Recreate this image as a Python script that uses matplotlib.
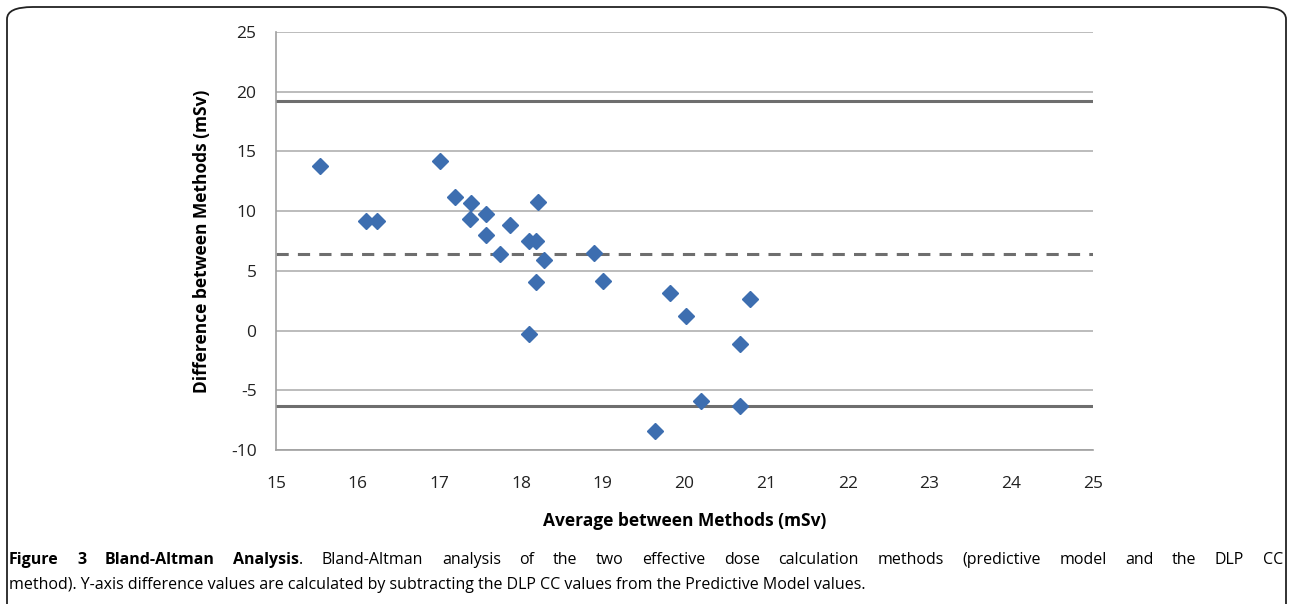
import matplotlib
matplotlib.use("Agg")
import matplotlib.pyplot as plt
from matplotlib.patches import FancyBboxPatch

plt.rcParams['font.family'] = ['Open Sans', 'DejaVu Sans']
plt.rcParams['axes.unicode_minus'] = False

# Data
avg_values = [15.54, 16.10, 16.24, 17.01, 17.19, 17.39, 17.37, 17.57, 17.57, 17.86,
              17.74, 18.10, 18.18, 18.21, 18.28, 18.18, 18.10, 18.89, 19.00, 19.82,
              20.02, 19.64, 20.20, 20.68, 20.68, 20.80]
diff_values = [13.82, 9.21, 9.21, 14.24, 11.22, 10.72, 9.38, 9.80, 8.04, 8.88,
               6.45, 7.54, 7.54, 10.80, 5.95, 4.10, -0.25, 6.53, 4.19, 3.18,
               1.26, -8.37, -5.86, -1.09, -6.28, 2.68]
mean_diff = 6.42
upper_loa = 19.25
lower_loa = -6.34
x_ticks = [15, 16, 17, 18, 19, 20, 21, 22, 23, 24, 25]
y_ticks = [-10, -5, 0, 5, 10, 15, 20, 25]

fig = plt.figure(figsize=(12.89, 6.04), dpi=100)
W, H = 1289, 604

# rounded border
border = FancyBboxPatch((7 / W, -20 / H), (1279) / W, (617) / H,
                        boxstyle="round,pad=0,rounding_size=0.02",
                        transform=fig.transFigure, fill=False,
                        edgecolor='#222222', linewidth=1.3)
fig.patches.append(border)

ax = fig.add_axes([276 / W, 1 - 450 / H, (1093 - 276) / W, (450 - 32) / H])
ax.set_xlim(15, 25)
ax.set_ylim(-10, 25)
ax.set_xticks(x_ticks)
ax.set_yticks(y_ticks)
ax.grid(axis='y', color='#b0b0b0', linewidth=1.2)
ax.set_axisbelow(True)
for s in ['top', 'right']:
    ax.spines[s].set_visible(False)
for s in ['left', 'bottom']:
    ax.spines[s].set_color('#a0a0a0')
    ax.spines[s].set_linewidth(1.2)
ax.tick_params(axis='both', length=0, labelsize=12.5, colors='#222222')
ax.tick_params(axis='y', pad=14)
ax.tick_params(axis='x', pad=19)

ax.axhline(upper_loa, color='#6e6e6e', linewidth=2.2)
ax.axhline(lower_loa, color='#6e6e6e', linewidth=2.2)
ax.axhline(mean_diff, color='#6e6e6e', linewidth=2.2, linestyle=(0, (4, 3)))

ax.plot(avg_values, diff_values, linestyle='none', marker='D', markersize=8.5,
        color='#3d6eb0', zorder=3)

ax.set_ylabel('Difference between Methods (mSv)', fontsize=12.5, fontweight='bold',
              labelpad=14)
ax.set_xlabel('Average between Methods (mSv)', fontsize=12.5, fontweight='bold',
              labelpad=14)

# caption
cap_fs = 11.5
fig.canvas.draw()
r = fig.canvas.get_renderer()

line1_tokens = [[('Figure', 'bold')], [('3', 'bold')], [('Bland-Altman', 'bold')],
                [('Analysis', 'bold'), ('.', 'normal')]]
line1_tokens += [[(w, 'normal')] for w in
                 'Bland-Altman analysis of the two effective dose calculation methods '
                 '(predictive model and the DLP CC'.split()]

def seg_width(text, weight):
    t = fig.text(0, 0, text, fontsize=cap_fs, fontweight=weight)
    w = t.get_window_extent(r).width
    t.remove()
    return w

tok_widths = [[seg_width(s, wt) for s, wt in tok] for tok in line1_tokens]
total = sum(sum(ws) for ws in tok_widths)
left, right = 9, 1283
gap = (right - left - total) / (len(line1_tokens) - 1)
x = left
y1 = 1 - 560 / H
for tok, ws in zip(line1_tokens, tok_widths):
    for (s, wt), w in zip(tok, ws):
        fig.text(x / W, y1, s, fontsize=cap_fs, fontweight=wt, va='center', ha='left')
        x += w
    x += gap

fig.text(left / W, 1 - 585 / H,
         'method). Y-axis difference values are calculated by subtracting the DLP CC '
         'values from the Predictive Model values.', fontsize=cap_fs, va='center', ha='left')

fig.savefig('out.png', dpi=100)
